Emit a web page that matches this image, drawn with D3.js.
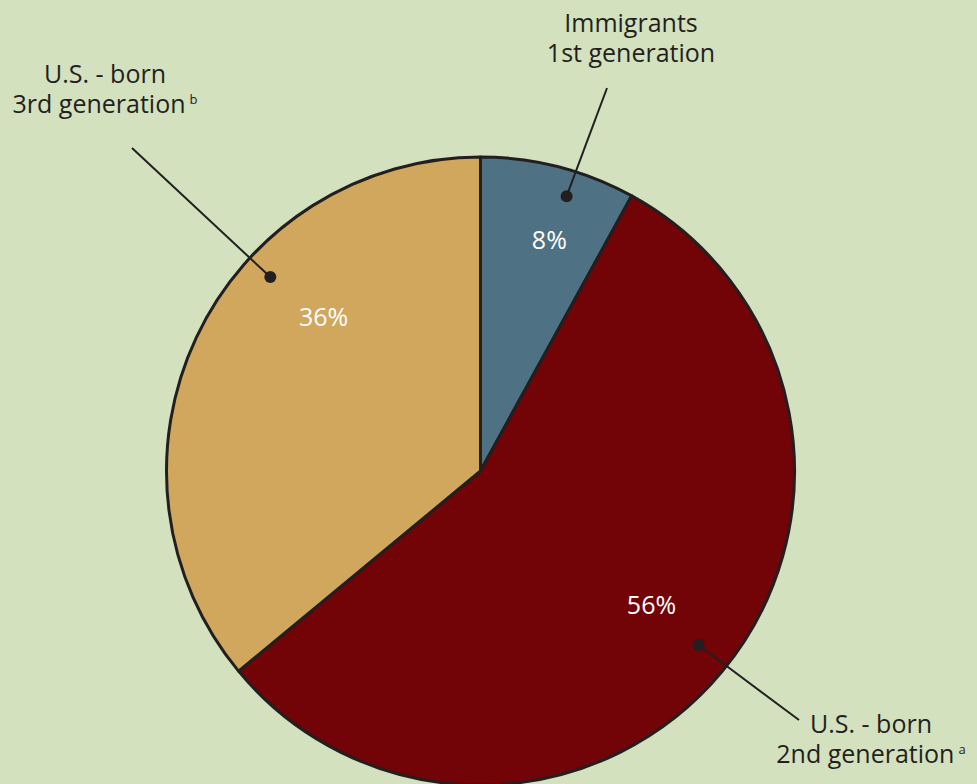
<!DOCTYPE html>
<html>
<head>
<meta charset="utf-8">
<script src="https://cdn.jsdelivr.net/npm/d3@7"></script>
<style>
  html, body { margin: 0; padding: 0; background: #d3e1bf; }
  svg { display: block; }
  text { font-family: "Open Sans", "Noto Sans", sans-serif; }
</style>
</head>
<body>
<svg id="chart" width="977" height="784"></svg>
<script>
// data
var groups = ["Immigrants 1st generation", "U.S.-born 2nd generation", "U.S.-born 3rd generation"];
var shares = [8, 56, 36];
var colors = ["#4e7284", "#720307", "#d0a75c"];
var pctLabels = ["8%", "56%", "36%"];

var W = 977, H = 784;
var cx = 480.5, cy = 471, R = 314;

var svg = d3.select("#chart");
svg.append("rect").attr("width", W).attr("height", H).attr("fill", "#d3e1bf");

var g = svg.append("g").attr("transform", "translate(" + cx + "," + cy + ")");

var pie = d3.pie().sort(null).value(function(d){ return d; });
var arc = d3.arc().innerRadius(0).outerRadius(R);
var arcs = pie(shares);

g.selectAll("path.slice")
  .data(arcs)
  .enter().append("path")
  .attr("class", "slice")
  .attr("d", arc)
  .attr("fill", function(d, i){ return colors[i]; })
  .attr("stroke", "#231f20")
  .attr("stroke-width", 3)
  .attr("stroke-linejoin", "round");

// polar helper (angle in degrees clockwise from 12 o'clock)
function polar(deg, r) {
  var a = deg * Math.PI / 180;
  return [Math.sin(a) * r, -Math.cos(a) * r];
}

// percent labels, nudged off the centroid like the original
var pctPos = [[16.6, 241], [128, 217], [314.5, 220]];
g.selectAll("text.pct")
  .data(arcs)
  .enter().append("text")
  .attr("class", "pct")
  .attr("x", function(d, i){ return polar(pctPos[i][0], pctPos[i][1])[0]; })
  .attr("y", function(d, i){ return polar(pctPos[i][0], pctPos[i][1])[1] + 9; })
  .attr("text-anchor", "middle")
  .attr("fill", "#ffffff")
  .attr("font-size", 25)
  .text(function(d, i){ return pctLabels[i]; });

// leader lines + dots
var dots = [[17.4, 288], [128.6, 279], [312.7, 286]];
var ends = [[607 - cx, 88 - cy], [799 - cx, 720 - cy], [132 - cx, 148 - cy]];
dots.forEach(function(p, i){
  var d = polar(p[0], p[1]);
  g.append("line")
    .attr("x1", d[0]).attr("y1", d[1])
    .attr("x2", ends[i][0]).attr("y2", ends[i][1])
    .attr("stroke", "#231f20").attr("stroke-width", 2);
  g.append("circle")
    .attr("cx", d[0]).attr("cy", d[1]).attr("r", 6)
    .attr("fill", "#231f20");
});

// callout text
var callouts = [
  {x: 631, y: 32, lines: ["Immigrants", "1st generation"], sup: ""},
  {x: 871, y: 733, lines: ["U.S. - born", "2nd generation"], sup: "a"},
  {x: 105, y: 83, lines: ["U.S. - born", "3rd generation"], sup: "b"}
];
callouts.forEach(function(c){
  var t = svg.append("text")
    .attr("text-anchor", "middle")
    .attr("fill", "#231f20")
    .attr("font-size", 25);
  c.lines.forEach(function(l, j){
    var ts = t.append("tspan").attr("x", c.x).attr("y", c.y + j * 30).text(l);
    if (j == c.lines.length - 1 && c.sup) {
      t.append("tspan").attr("dx", 4).attr("dy", -9)
        .attr("font-size", 13).text(c.sup);
    }
  });
});
</script>
</body>
</html>
